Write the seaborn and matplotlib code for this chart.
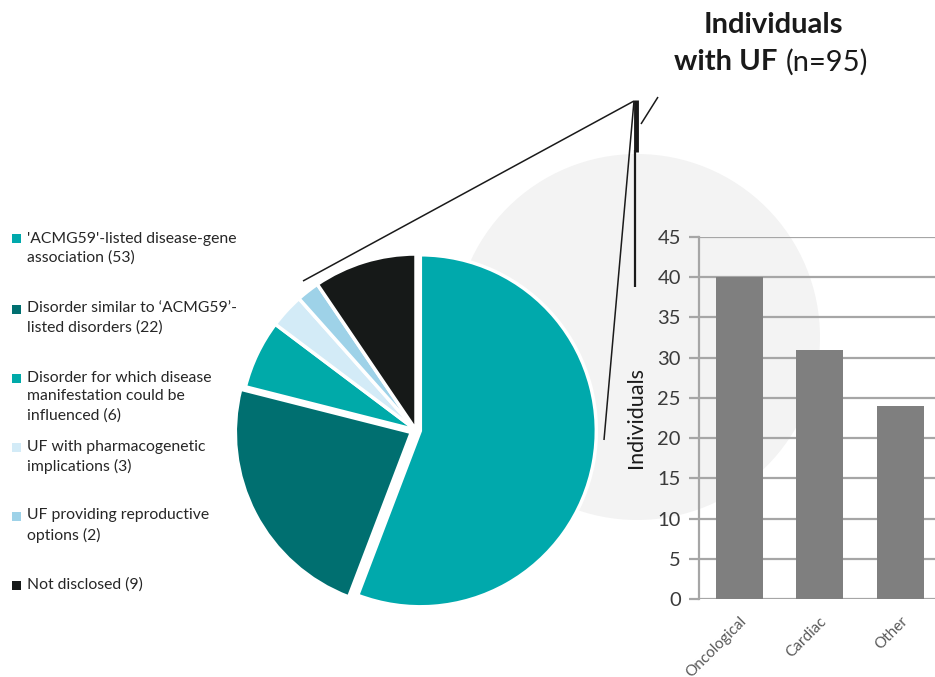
import matplotlib
matplotlib.use("Agg")
import matplotlib.pyplot as plt
import seaborn as sns
import pandas as pd
from matplotlib.patches import Ellipse, Rectangle
from matplotlib.lines import Line2D

# ---------------- data ----------------
pie_labels = ["'ACMG59'-listed disease-gene\nassociation (53)",
              "Disorder similar to \u2018ACMG59\u2019-\nlisted disorders (22)",
              "Disorder for which disease\nmanifestation could be\ninfluenced (6)",
              "UF with pharmacogenetic\nimplications (3)",
              "UF providing reproductive\noptions (2)",
              "Not disclosed (9)"]
pie_values = [53, 22, 6, 3, 2, 9]
pie_colors = ["#00a9ac", "#006f70", "#00aaa9", "#d3ebf7", "#9ed2e8", "#161918"]

bar_categories = ["Oncological", "Cardiac", "Other"]
bar_values = [40, 31, 24]
y_ticks = [0, 5, 10, 15, 20, 25, 30, 35, 40, 45]

# ---------------- setup ----------------
sns.set_theme(style="white")
plt.rcParams['font.family'] = ['Lato', 'DejaVu Sans']

W, H = 935, 677
fig = plt.figure(figsize=(W / 100, H / 100), dpi=100)
fig.patch.set_facecolor("white")

def fx(x):
    return x / W

def fy(y):
    return 1 - y / H

# background grey circle
fig.add_artist(Ellipse((fx(637), fy(337)), 366 / W, 366 / H,
                       facecolor="#f3f3f3", edgecolor="none", zorder=-5))

# ---------------- pie ----------------
cx, cy, r = 416, 430, 176
ax_pie = fig.add_axes([fx(cx - r * 1.05), fy(cy + r * 1.05), 2.1 * r / W, 2.1 * r / H])
ax_pie.patch.set_alpha(0)
ax_pie.pie(pie_values, colors=pie_colors, startangle=90, counterclock=False,
           explode=[0.025, 0.03, 0, 0, 0, 0],
           wedgeprops=dict(edgecolor="white", linewidth=2.5))
ax_pie.set_xlim(-1.05, 1.05)
ax_pie.set_ylim(-1.05, 1.05)
ax_pie.set_aspect("equal")
ax_pie.axis("off")

# ---------------- legend (manual) ----------------
legend_tops = [239, 309, 378, 447, 516, 585]
for lab, col, yy in zip(pie_labels, pie_colors, legend_tops):
    fig.add_artist(Rectangle((fx(12), fy(yy + 4.5)), 9 / W, 9 / H,
                             facecolor=col, edgecolor="none"))
    fig.text(fx(27), fy(yy - 7.5), lab, fontsize=11.3, color="#262626",
             va="top", ha="left", linespacing=1.45)

# ---------------- bar chart ----------------
df = pd.DataFrame({"cat": bar_categories, "val": bar_values})
ax_bar = fig.add_axes([fx(699), fy(599), 241.5 / W, 362 / H])
ax_bar.patch.set_alpha(0)
sns.barplot(data=df, x="cat", y="val", color="#7f7f7f", width=0.58,
            saturation=1, ax=ax_bar, zorder=3, linewidth=0, edgecolor="none")
ax_bar.set_xlim(-0.5, 2.5)
ax_bar.set_ylim(0, 45)
ax_bar.set_yticks(y_ticks)
ax_bar.set_yticklabels([str(t) for t in y_ticks], fontsize=14.5, color="#3a3a3a")
ax_bar.yaxis.grid(True, color="#a6a6a6", linewidth=1.6)
ax_bar.set_axisbelow(True)
for s in ["top", "right", "bottom"]:
    ax_bar.spines[s].set_visible(False)
ax_bar.spines["left"].set_color("#a6a6a6")
ax_bar.spines["left"].set_linewidth(1.6)
ax_bar.tick_params(axis="y", length=7, width=1.6, color="#a6a6a6",
                   direction="out", pad=6, left=True)
ax_bar.tick_params(axis="x", length=0, pad=11)
ax_bar.set_xticks(range(len(bar_categories)))
ax_bar.set_xticklabels(bar_categories, rotation=45, ha="right",
                       rotation_mode="anchor", fontsize=11, color="#595959")
ax_bar.set_xlabel("")
ax_bar.set_ylabel("Individuals", fontsize=15.5, color="#1a1a1a", va="center")
ax_bar.yaxis.set_label_coords((636 - 699) / 241.5, 0.5)

# ---------------- title ----------------
fig.text(fx(773), fy(25), "Individuals", fontsize=21, fontweight="bold",
         color="#1a1a1a", ha="center", va="center")
fig.text(fx(777), fy(62), "with UF", fontsize=21, fontweight="bold",
         color="#1a1a1a", ha="right", va="center")
fig.text(fx(786), fy(62), "(n=95)", fontsize=21, color="#1a1a1a",
         ha="left", va="center")

# ---------------- connector lines ----------------
def seg(x0, y0, x1, y1, lw=1.1, color="#1a1a1a"):
    fig.add_artist(Line2D([fx(x0), fx(x1)], [fy(y0), fy(y1)], color=color,
                          linewidth=lw, zorder=10, solid_capstyle="butt"))

seg(303, 281, 634, 101)
seg(604, 440, 634, 101)
seg(641, 124, 658, 97)
seg(636, 100, 636, 152, lw=3.5)
seg(635, 150, 635, 287, lw=1.6)

fig.savefig("out.png", dpi=100)
